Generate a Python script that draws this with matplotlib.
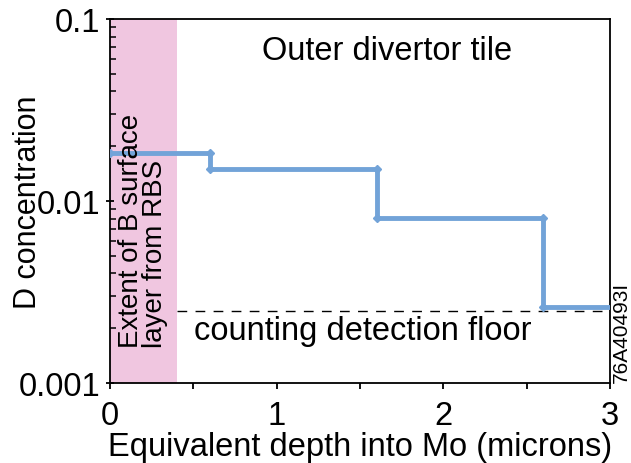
import numpy as np
import matplotlib
matplotlib.use("Agg")
import matplotlib.pyplot as plt
from matplotlib.ticker import MultipleLocator, LogLocator, NullFormatter

plt.rcParams['font.family'] = ['Liberation Sans', 'DejaVu Sans']

# step profile: depth edges (microns) and D concentration in each slab
depth_edges = [0.0, 0.6, 1.6, 2.6, 3.0]
d_conc = [0.0183, 0.0150, 0.0081, 0.0026]
rbs_layer = 0.4          # extent of B surface layer
floor_level = 0.00248    # counting detection floor

fig = plt.figure(figsize=(6.31, 4.64), dpi=100)
ax = fig.add_axes([110 / 631, 1 - 384 / 464, 500 / 631, 364 / 464])

ax.axvspan(0, rbs_layer, color='#f0c6e0', lw=0, zorder=0)

# step line built from the slab edges
xs, ys = [], []
for i, c in enumerate(d_conc):
    xs += [depth_edges[i], depth_edges[i + 1]]
    ys += [c, c]
blue = '#72a3d8'
ax.plot(xs, ys, color=blue, lw=3.5, solid_joinstyle='miter', zorder=3)
ax.plot(xs[:-1], ys[:-1], ls='none', marker='D', ms=4, color=blue, zorder=3)

ax.plot([rbs_layer, 3.0], [floor_level, floor_level], color='black', lw=1,
        dashes=(7, 6), zorder=2)

ax.set_yscale('log')
ax.set_xlim(0, 3)
ax.set_ylim(0.001, 0.1)

ax.xaxis.set_major_locator(MultipleLocator(1))
ax.xaxis.set_minor_locator(MultipleLocator(0.5))
ax.set_yticks([0.001, 0.01, 0.1])
ax.set_yticklabels(['0.001', '0.01', '0.1'])
ax.yaxis.set_minor_locator(LogLocator(base=10, subs=np.arange(2, 10)))
ax.yaxis.set_minor_formatter(NullFormatter())

ax.tick_params(axis='x', which='major', direction='out', length=4.5, width=1.3,
               labelsize=23.5, pad=8)
ax.tick_params(axis='x', which='minor', direction='out', length=4, width=1.3)
ax.tick_params(axis='y', which='major', direction='inout', length=6, width=1.3,
               labelsize=23.5, pad=4)
ax.tick_params(axis='y', which='minor', direction='in', length=4, width=1.1)
for s in ax.spines.values():
    s.set_linewidth(1.3)

ax.set_xlabel('Equivalent depth into Mo (microns)', fontsize=23.5, labelpad=0)
ax.set_ylabel('D concentration', fontsize=22)
ax.yaxis.set_label_coords(-0.134, 0.5)

ax.text(1.66, 0.0603, 'Outer divertor tile', fontsize=23.5, ha='center', va='baseline')
ax.text(1.518, 0.001745, 'counting detection floor', fontsize=23.5, ha='center',
        va='baseline')
ax.text(0.20, 0.00158, 'Extent of B surface\nlayer from RBS', fontsize=20,
        rotation=90, ha='center', va='bottom', multialignment='left', linespacing=0.9)
fig.text(0.984, 1 - 383 / 464, '76A40493I', fontsize=15, rotation=90,
         ha='center', va='bottom')

fig.savefig('out.png', dpi=100)
